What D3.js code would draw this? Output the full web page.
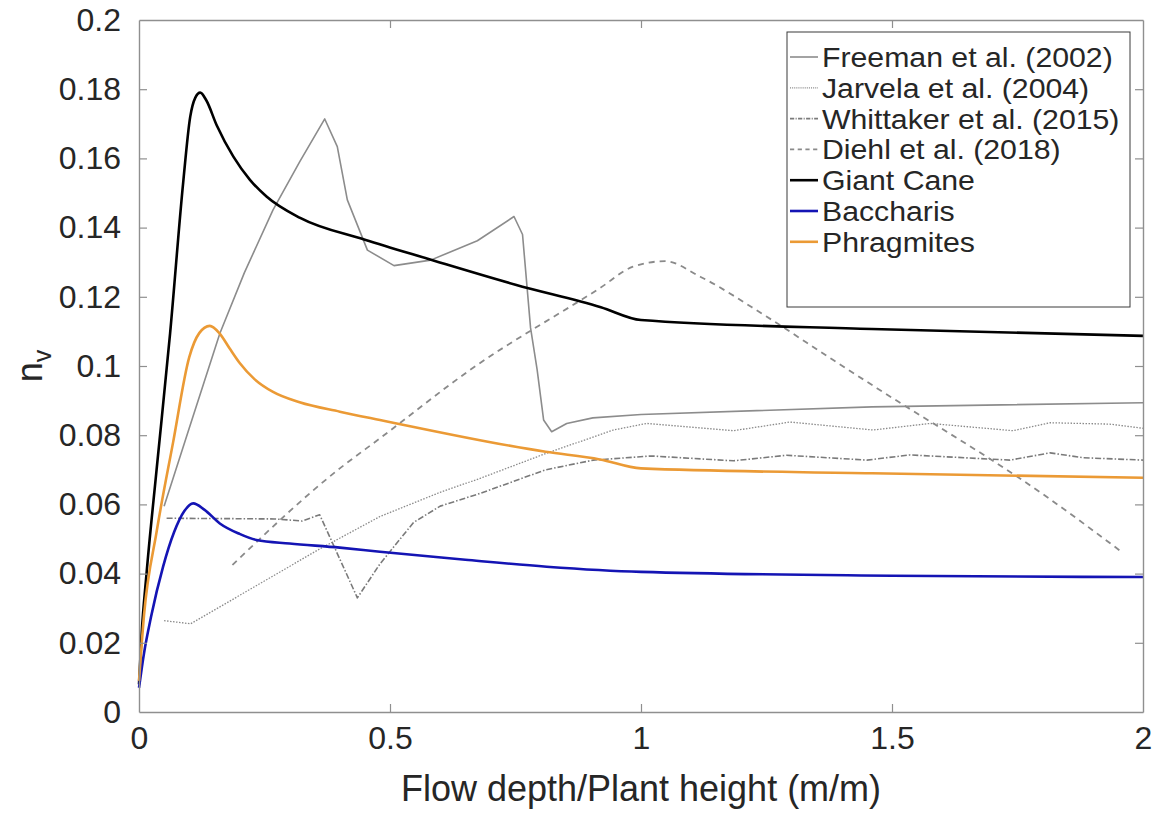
<!DOCTYPE html>
<html>
<head>
<meta charset="utf-8">
<script src="https://cdn.jsdelivr.net/npm/d3@7.9.0/dist/d3.min.js"></script>
<style>
  body { margin: 0; background: #fff; }
  svg text { font-family: "Liberation Sans", Arial, sans-serif; fill: #262626; }
</style>
</head>
<body>
<svg id="chart" width="1159" height="813"></svg>
<script>
// values: x = flow depth / plant height, y = n_v
const freemanX = [0.05, 0.1, 0.161, 0.21, 0.267, 0.32, 0.37, 0.395, 0.415, 0.455, 0.508, 0.581, 0.674, 0.747, 0.764, 0.78, 0.793, 0.806, 0.822, 0.852, 0.904, 1.0, 1.46, 2.0];
const freemanY = [0.0595, 0.082, 0.1094, 0.127, 0.1451, 0.159, 0.1714, 0.1634, 0.148, 0.1335, 0.129, 0.1306, 0.1362, 0.1432, 0.138, 0.111, 0.099, 0.0844, 0.081, 0.0834, 0.085, 0.086, 0.0882, 0.0894];

const jarvelaX = [0.05, 0.103, 0.356, 0.48, 0.6, 0.679, 0.812, 0.945, 1.011, 1.184, 1.297, 1.462, 1.576, 1.741, 1.815, 1.934, 2.0];
const jarvelaY = [0.0264, 0.0255, 0.0468, 0.0565, 0.0635, 0.0675, 0.0748, 0.0815, 0.0834, 0.0813, 0.0838, 0.0815, 0.0834, 0.0813, 0.0836, 0.0832, 0.082];

const whittakerX = [0.055, 0.27, 0.325, 0.36, 0.435, 0.48, 0.547, 0.6, 0.68, 0.81, 0.905, 1.02, 1.184, 1.29, 1.45, 1.536, 1.735, 1.815, 1.88, 2.0];
const whittakerY = [0.056, 0.0558, 0.0552, 0.057, 0.033, 0.0428, 0.0548, 0.0595, 0.0632, 0.07, 0.0728, 0.074, 0.0726, 0.0742, 0.0728, 0.0743, 0.0728, 0.0749, 0.0735, 0.0728];

const diehlX = [0.186, 0.4, 0.48, 0.659, 0.918, 0.984, 1.048, 1.118, 1.25, 1.383, 1.47, 1.808, 1.96];
const diehlY = [0.0425, 0.0704, 0.0791, 0.0988, 0.1225, 0.1287, 0.1303, 0.1258, 0.1143, 0.1017, 0.0936, 0.0622, 0.046];

const caneX = [0, 0.005, 0.015, 0.035, 0.062, 0.088, 0.102, 0.112, 0.122, 0.134, 0.155, 0.188, 0.221, 0.254, 0.321, 0.45, 0.575, 0.75, 0.92, 1.0, 1.46, 2.0];
const caneY = [0.008, 0.022, 0.04, 0.07, 0.1095, 0.153, 0.172, 0.1775, 0.179, 0.1768, 0.1695, 0.1605, 0.1538, 0.149, 0.1428, 0.1365, 0.131, 0.1235, 0.117, 0.1133, 0.1107, 0.1087];

const baccharisX = [0, 0.01, 0.024, 0.048, 0.07, 0.09, 0.108, 0.13, 0.161, 0.2, 0.234, 0.3, 0.4, 0.48, 0.65, 0.812, 1.0, 1.5, 2.0];
const baccharisY = [0.007, 0.017, 0.0275, 0.042, 0.052, 0.058, 0.0603, 0.0585, 0.0545, 0.0515, 0.0497, 0.0487, 0.0475, 0.0463, 0.044, 0.042, 0.0405, 0.0394, 0.039];

const phragX = [0, 0.01, 0.035, 0.068, 0.1, 0.12, 0.141, 0.16, 0.18, 0.201, 0.23, 0.267, 0.32, 0.4, 0.48, 0.81, 0.918, 1.0, 1.46, 2.0];
const phragY = [0.009, 0.028, 0.052, 0.078, 0.1025, 0.1095, 0.1116, 0.1095, 0.1052, 0.1008, 0.0962, 0.0925, 0.0895, 0.0868, 0.0844, 0.0752, 0.073, 0.0704, 0.069, 0.0677];

const xTicks = [0, 0.5, 1, 1.5, 2];
const yTicks = [0, 0.02, 0.04, 0.06, 0.08, 0.1, 0.12, 0.14, 0.16, 0.18, 0.2];

const series = [
  { name: 'Freeman et al. (2002)', xs: freemanX, ys: freemanY, color: '#8c8c8c', width: 1.6, dash: null, curve: d3.curveLinear },
  { name: 'Jarvela et al. (2004)', xs: jarvelaX, ys: jarvelaY, color: '#8a8a8a', width: 1.3, dash: '1.5,1.5', curve: d3.curveLinear },
  { name: 'Whittaker et al. (2015)', xs: whittakerX, ys: whittakerY, color: '#7a7a7a', width: 1.6, dash: '6,2,1.5,2', curve: d3.curveLinear },
  { name: 'Diehl et al. (2018)', xs: diehlX, ys: diehlY, color: '#8a8a8a', width: 1.8, dash: '6,5', curve: d3.curveMonotoneX },
  { name: 'Giant Cane', xs: caneX, ys: caneY, color: '#000000', width: 2.6, dash: null, curve: d3.curveMonotoneX },
  { name: 'Baccharis', xs: baccharisX, ys: baccharisY, color: '#1414b4', width: 2.6, dash: null, curve: d3.curveMonotoneX },
  { name: 'Phragmites', xs: phragX, ys: phragY, color: '#eb9a35', width: 2.6, dash: null, curve: d3.curveMonotoneX }
];

const margin = { left: 139, right: 16, top: 20, bottom: 101 };
const W = 1159, H = 813;
const svg = d3.select('#chart');

const x = d3.scaleLinear().domain([0, 2]).range([margin.left, W - margin.right]);
const y = d3.scaleLinear().domain([0, 0.2]).range([H - margin.bottom, margin.top]);

const axisColor = '#8f8f8f';
const tickLen = 8;

// lines
const plot = svg.append('g');
series.forEach(s => {
  const pts = s.xs.map((v, i) => [v, s.ys[i]]);
  const line = d3.line().x(d => x(d[0])).y(d => y(d[1])).curve(s.curve);
  plot.append('path')
    .attr('d', line(pts))
    .attr('fill', 'none')
    .attr('stroke', s.color)
    .attr('stroke-width', s.width)
    .attr('stroke-dasharray', s.dash)
    .attr('stroke-linejoin', 'round');
});

// axes (box with inward ticks)
const xAxis = svg.append('g').attr('transform', `translate(0,${y(0)})`)
  .call(d3.axisBottom(x).tickValues(xTicks).tickFormat(d3.format('')).tickSizeInner(-tickLen).tickSizeOuter(0).tickPadding(14));
const xTop = svg.append('g').attr('transform', `translate(0,${y(0.2)})`)
  .call(d3.axisTop(x).tickValues(xTicks).tickFormat('').tickSizeInner(-tickLen).tickSizeOuter(0));
const yAxis = svg.append('g').attr('transform', `translate(${x(0)},0)`)
  .call(d3.axisLeft(y).tickValues(yTicks).tickFormat(d3.format('')).tickSizeInner(-tickLen).tickSizeOuter(0).tickPadding(18));
const yRight = svg.append('g').attr('transform', `translate(${x(2)},0)`)
  .call(d3.axisRight(y).tickValues(yTicks).tickFormat('').tickSizeInner(-tickLen).tickSizeOuter(0));

[xAxis, xTop, yAxis, yRight].forEach(g => {
  g.select('.domain').attr('stroke', axisColor).attr('stroke-width', 1.4);
  g.selectAll('.tick line').attr('stroke', axisColor).attr('stroke-width', 1.2);
  g.selectAll('.tick text').attr('font-size', 32).attr('fill', '#262626')
    .attr('font-family', '"Liberation Sans", Arial, sans-serif');
});
// drop edge ticks that sit on the frame
xAxis.selectAll('.tick').filter(d => d === 0 || d === 2).select('line').remove();
xTop.selectAll('.tick').filter(d => d === 0 || d === 2).select('line').remove();
yAxis.selectAll('.tick').filter(d => d === 0 || d === 0.2).select('line').remove();
yRight.selectAll('.tick').filter(d => d === 0 || d === 0.2).select('line').remove();

// axis titles
svg.append('text')
  .attr('x', (x(0) + x(2)) / 2).attr('y', 801)
  .attr('text-anchor', 'middle').attr('font-size', 36)
  .text('Flow depth/Plant height (m/m)');

const yl = svg.append('text')
  .attr('transform', `translate(42,${(y(0) + y(0.2)) / 2}) rotate(-90)`)
  .attr('text-anchor', 'middle').attr('font-size', 36);
yl.append('tspan').text('n');
yl.append('tspan').attr('font-size', 25).attr('dy', 9).text('v');

// legend
const lg = { x: 787, y: 32, w: 343, h: 275, row: 30.8 };
const legend = svg.append('g');
legend.append('rect')
  .attr('x', lg.x).attr('y', lg.y).attr('width', lg.w).attr('height', lg.h)
  .attr('fill', '#fff').attr('stroke', '#3a3a3a').attr('stroke-width', 1);
series.forEach((s, i) => {
  const cy = lg.y + 25 + i * lg.row;
  legend.append('line')
    .attr('x1', lg.x + 3).attr('x2', lg.x + 31).attr('y1', cy).attr('y2', cy)
    .attr('stroke', s.color).attr('stroke-width', s.width)
    .attr('stroke-dasharray', s.dash ? s.dash.split(',').map(v => +v * 0.7).join(',') : null);
  legend.append('text')
    .attr('transform', `translate(${lg.x + 35},${cy}) scale(1.1,1)`)
    .attr('dy', '0.36em')
    .attr('font-size', 27.5).attr('fill', '#000')
    .text(s.name);
});
</script>
</body>
</html>
